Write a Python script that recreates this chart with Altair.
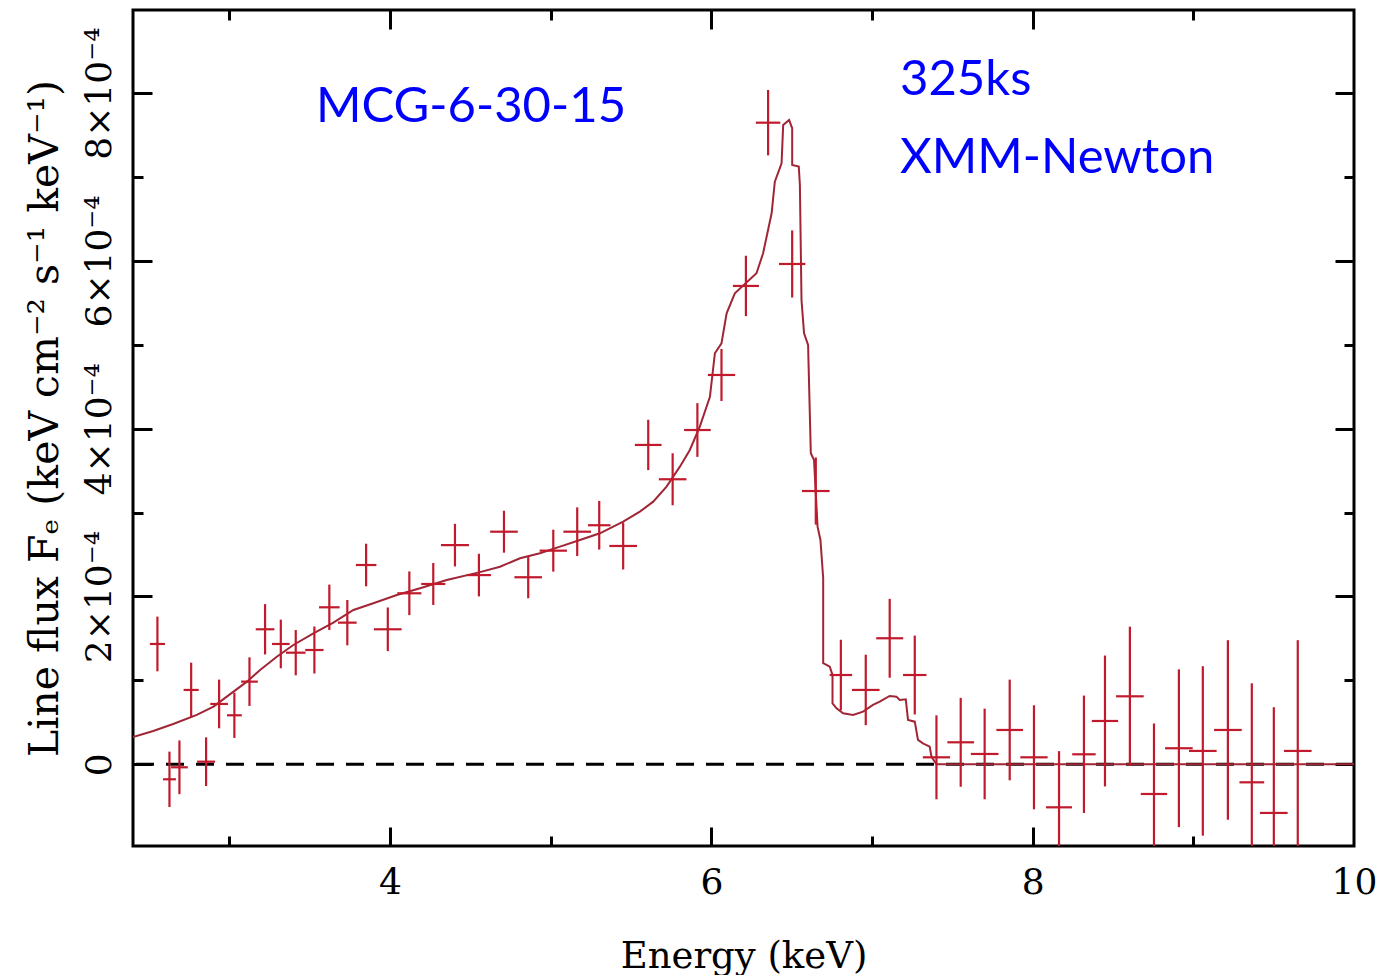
import altair as alt
import pandas as pd

# ---- observed spectrum (line flux in units of 1e-4) ----
energy = [2.552, 2.627, 2.689, 2.762, 2.855, 2.936, 3.031, 3.125, 3.222, 3.320,
          3.413, 3.529, 3.622, 3.734, 3.851, 3.986, 4.120, 4.269, 4.404, 4.553,
          4.709, 4.860, 5.016, 5.165, 5.302, 5.451, 5.607, 5.759, 5.913, 6.063,
          6.215, 6.353, 6.503, 6.650, 6.806, 6.961, 7.110, 7.266, 7.401, 7.552,
          7.701, 7.857, 8.008, 8.164, 8.319, 8.450, 8.605, 8.755, 8.910, 9.059,
          9.215, 9.364, 9.501, 9.650]
energy_halfwidth = [0.047, 0.040, 0.052, 0.047, 0.056, 0.055, 0.046, 0.052, 0.058, 0.055,
                    0.061, 0.057, 0.064, 0.058, 0.064, 0.086, 0.075, 0.075, 0.087, 0.075,
                    0.086, 0.086, 0.085, 0.086, 0.070, 0.086, 0.083, 0.086, 0.083, 0.085,
                    0.081, 0.076, 0.082, 0.086, 0.070, 0.086, 0.084, 0.073, 0.085, 0.083,
                    0.086, 0.083, 0.085, 0.081, 0.073, 0.082, 0.086, 0.082, 0.086, 0.086,
                    0.086, 0.077, 0.086, 0.086]
flux = [1.434, -0.179, -0.036, 0.886, 0.031, 0.719, 0.584, 0.985, 1.609, 1.434,
        1.330, 1.362, 1.871, 1.688, 2.375, 1.609, 2.038, 2.149, 2.612, 2.255,
        2.772, 2.229, 2.546, 2.772, 2.849, 2.602, 3.806, 3.397, 3.984, 4.640,
        5.701, 7.647, 5.963, 3.257, 1.064, 0.886, 1.502, 1.064, 0.083, 0.262,
        0.123, 0.409, 0.083, -0.513, 0.119, 0.516, 0.810, -0.354, 0.191, 0.159,
        0.409, -0.215, -0.580, 0.159]
flux_err = [0.326, 0.33, 0.32, 0.325, 0.29, 0.29, 0.27, 0.29, 0.30, 0.29,
            0.27, 0.28, 0.27, 0.27, 0.254, 0.26, 0.26, 0.25, 0.254, 0.254,
            0.25, 0.25, 0.25, 0.29, 0.29, 0.28, 0.30, 0.31, 0.32, 0.31,
            0.36, 0.39, 0.40, 0.40, 0.42, 0.42, 0.47, 0.47, 0.50, 0.53,
            0.54, 0.60, 0.62, 0.67, 0.70, 0.78, 0.83, 0.84, 0.94, 1.01,
            1.07, 1.18, 1.26, 1.32]

# ---- model line profile ----
model_energy = [2.400, 2.526, 2.650, 2.797, 2.901, 2.984, 3.109, 3.191, 3.295, 3.398,
                3.523, 3.647, 3.772, 3.896, 4.042, 4.187, 4.353, 4.560, 4.684, 4.809,
                4.933, 5.058, 5.182, 5.306, 5.451, 5.555, 5.638, 5.721, 5.804, 5.866,
                5.928, 5.991, 6.022, 6.063, 6.095, 6.146, 6.281, 6.322, 6.375, 6.395,
                6.437, 6.447, 6.484, 6.503, 6.503, 6.544, 6.551, 6.561, 6.577, 6.602,
                6.619, 6.639, 6.661, 6.679, 6.696, 6.696, 6.737, 6.754, 6.754, 6.779,
                6.820, 6.882, 6.944, 7.006, 7.048, 7.110, 7.152, 7.172, 7.210, 7.224,
                7.266, 7.286, 7.317, 7.359, 7.370, 7.401, 10.0]
model_flux = [0.325, 0.397, 0.480, 0.588, 0.687, 0.806, 0.985, 1.124, 1.282, 1.422,
              1.561, 1.688, 1.839, 1.919, 2.018, 2.098, 2.197, 2.290, 2.355, 2.455,
              2.515, 2.594, 2.673, 2.753, 2.892, 3.011, 3.130, 3.309, 3.547, 3.746,
              4.024, 4.381, 4.899, 5.018, 5.375, 5.614, 5.852, 6.091, 6.567, 6.944,
              7.163, 7.620, 7.679, 7.580, 7.143, 7.123, 6.905, 5.534, 5.137, 4.998,
              3.707, 3.627, 2.832, 2.673, 2.217, 1.204, 1.163, 1.064, 0.727, 0.667,
              0.608, 0.588, 0.627, 0.707, 0.746, 0.814, 0.806, 0.766, 0.775, 0.528,
              0.508, 0.290, 0.250, 0.210, 0.091, 0.0, 0.0]

x_major = [4, 6, 8, 10]
x_ticks = [3, 4, 5, 6, 7, 8, 9]
y_major = [0, 2, 4, 6, 8]
y_ticks = [0, 1, 2, 3, 4, 5, 6, 7, 8]

title_x = "Energy (keV)"
title_y = "Line flux F\u2091 (keV cm\u207b\u00b2 s\u207b\u00b9 keV\u207b\u00b9)"
annotations = ["MCG-6-30-15", "325ks", "XMM-Newton"]

pts = pd.DataFrame({"E": energy, "hw": energy_halfwidth, "F": flux, "err": flux_err})
pts["E_lo"] = pts["E"] - pts["hw"]
pts["E_hi"] = pts["E"] + pts["hw"]
pts["F_lo"] = pts["F"] - pts["err"]
pts["F_hi"] = pts["F"] + pts["err"]
model = pd.DataFrame({"E": model_energy, "F": model_flux})

W, H = 1221, 836
xs = alt.Scale(domain=[2.4, 10], nice=False, zero=False)
ys = alt.Scale(domain=[-0.974, 8.99], nice=False, zero=False)

SERIF = "DejaVu Serif"
tick_len = {"condition": {"test": "datum.value % 2 === 0", "value": 19}, "value": 10}

def tick_axis(orient, values, offset):
    return alt.Axis(orient=orient, offset=offset, values=values, labels=False,
                    domain=False, grid=False, ticks=True, tickColor="black",
                    tickWidth=3, tickSize=tick_len, title="")

x_label_axis = alt.Axis(orient="bottom", values=x_major, ticks=False, tickSize=0,
                        domain=False, grid=False, labelFont=SERIF, labelFontSize=36,
                        labelColor="black", labelPadding=19, labelBaseline="top",
                        labelFlush=False, labelOverlap=False, format="d",
                        title=title_x, titleFont=SERIF, titleFontSize=37,
                        titleFontWeight="normal", titleColor="black",
                        titleBaseline="alphabetic", titleY=121, titleX=W / 2)
y_label_axis = alt.Axis(orient="left", values=y_major, ticks=False, tickSize=0,
                        domain=False, grid=False, labelFont=SERIF, labelFontSize=36,
                        labelColor="black", labelPadding=23, labelAngle=270,
                        labelAlign="center", labelBaseline="alphabetic",
                        labelFlush=False, labelOverlap=False,
                        labelExpr="datum.value === 0 ? '0' : datum.value + '\u00d710\u207b\u2074'",
                        title=title_y, titleFont=SERIF, titleFontSize=41,
                        titleFontWeight="normal", titleColor="black", titleAngle=270,
                        titleAlign="center", titleBaseline="alphabetic",
                        titleX=-76, titleY=H / 2 - 10)

RED = "#c01a2c"
MODEL = "#a02636"

zero_line = alt.Chart(pd.DataFrame({"z": [0]})).mark_rule(
    color="black", strokeWidth=3, strokeDash=[18, 12]
).encode(y=alt.Y("z:Q", scale=ys, axis=None))

model_line = alt.Chart(model).mark_line(color=MODEL, strokeWidth=2, clip=True).encode(
    x=alt.X("E:Q", scale=xs, axis=x_label_axis),
    y=alt.Y("F:Q", scale=ys, axis=y_label_axis),
)

xerr = alt.Chart(pts).mark_rule(color=RED, strokeWidth=2.2, clip=True).encode(
    x=alt.X("E_lo:Q", scale=xs, axis=tick_axis("top", x_ticks, -H)),
    x2="E_hi:Q",
    y=alt.Y("F:Q", scale=ys, axis=tick_axis("right", y_ticks, -W)),
)

yerr = alt.Chart(pts).mark_rule(color=RED, strokeWidth=2.2, clip=True).encode(
    x=alt.X("E:Q", scale=xs, axis=tick_axis("bottom", x_ticks, -H)),
    y=alt.Y("F_lo:Q", scale=ys, axis=tick_axis("left", y_ticks, -W)),
    y2="F_hi:Q",
)

def label(text, px, py):
    return alt.Chart(pd.DataFrame({"t": [text]})).mark_text(
        align="left", baseline="alphabetic", font="Lato", fontSize=49, color="#0000ff"
    ).encode(text="t:N", x=alt.value(px), y=alt.value(py))

texts = [label(annotations[0], 183, 112), label(annotations[1], 767, 85),
         label(annotations[2], 767, 163)]

chart = alt.layer(zero_line, model_line, xerr, yerr, *texts).resolve_axis(
    x="independent", y="independent"
).properties(
    width=W, height=H,
    padding={"left": 133, "top": 10, "right": 23, "bottom": 129},
    autosize=alt.AutoSizeParams(type="none"),
    background="white",
).configure_view(stroke="black", strokeWidth=3)

chart.save("out.html", embed_options={"renderer": "svg", "actions": False})
